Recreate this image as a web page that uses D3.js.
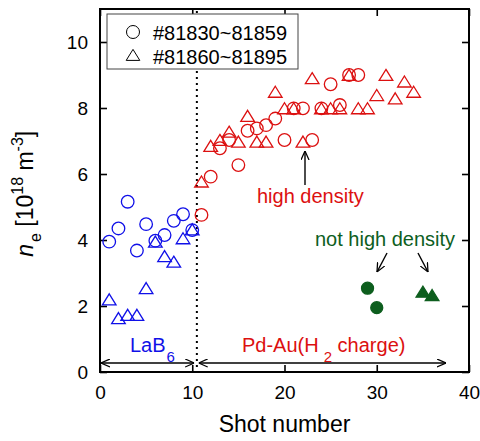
<!DOCTYPE html>
<html>
<head>
<meta charset="utf-8">
<script src="https://cdn.jsdelivr.net/npm/d3@7"></script>
<style>
  body { margin: 0; background: #fff; }
  text { font-family: "Liberation Sans", Arial, sans-serif; }
</style>
</head>
<body>
<svg id="chart" width="480" height="441"></svg>
<script>
// shot numbers and densities (10^18 m^-3)
const lab6Shots = [1, 2, 3, 4, 5, 6, 7, 8, 9, 10];
const lab6Circle = [3.95, 4.35, 5.16, 3.68, 4.48, 3.98, 4.15, 4.58, 4.78, 4.30];
const lab6Triangle = [2.20, 1.63, 1.73, 1.73, 2.54, 3.95, 3.51, 3.34, 4.05, 4.32];

const pdCircleShots = [11, 12, 13, 14, 15, 16, 17, 18, 19, 20, 21, 22, 23, 24, 25, 26, 27, 28];
const pdCircle = [4.76, 5.92, 6.78, 7.03, 6.27, 7.31, 7.38, 7.48, 7.68, 7.03, 7.99, 7.99, 7.03, 7.99, 8.72, 8.09, 9.00, 9.00];
const pdTriangleShots = [11, 12, 13, 14, 15, 16, 17, 18, 19, 20, 21, 22, 23, 24, 25, 26, 27, 28, 29, 30, 31, 32, 33, 34];
const pdTriangle = [5.77, 6.85, 7.03, 7.28, 6.98, 7.76, 6.98, 6.98, 8.49, 7.99, 7.99, 6.98, 8.90, 7.99, 7.99, 7.99, 9.00, 7.99, 7.99, 8.39, 9.00, 8.29, 8.80, 8.49];

const lowCircleShots = [29, 30];
const lowCircle = [2.54, 1.95];
const lowTriangleShots = [35, 36];
const lowTriangle = [2.43, 2.33];

const xTicks = [0, 10, 20, 30, 40];
const yTicks = [0, 2, 4, 6, 8, 10];
const legendLabels = ["#81830~81859", "#81860~81895"];

const BLUE = "#1010e8", RED = "#dc1010", GREEN = "#0d5e1e";

let svg = d3.select("#chart");
let W = 480, H = 441;
let m = {left: 100, right: 11, top: 9, bottom: 69};

let x = d3.scaleLinear().domain([0, 40]).range([m.left, W - m.right]);
let y = d3.scaleLinear().domain([0, 11]).range([H - m.bottom, m.top]);

let zip = (xs, ys) => xs.map((v, i) => [v, ys[i]]);
let triPath = "M0,-5.6L6.8,5.4L-6.8,5.4Z";

// arrow heads
let defs = svg.append("defs");
defs.append("marker").attr("id", "arr")
    .attr("viewBox", "0 -5 10 10").attr("refX", 10).attr("refY", 0)
    .attr("markerWidth", 9).attr("markerHeight", 9).attr("markerUnits", "userSpaceOnUse")
    .attr("orient", "auto-start-reverse")
    .append("path").attr("d", "M0,-4.5L10,0L0,4.5").attr("fill", "none")
    .attr("stroke", "#000").attr("stroke-width", 1.4);

// axes (ticks inward on all four sides)
let frame = svg.append("g");
frame.append("g").attr("transform", `translate(0,${y(0)})`)
    .call(d3.axisBottom(x).tickValues(xTicks).tickSizeInner(-7).tickSizeOuter(0).tickPadding(14));
frame.append("g").attr("transform", `translate(0,${y(11)})`)
    .call(d3.axisTop(x).tickValues(xTicks).tickSizeInner(-7).tickSizeOuter(0).tickFormat(""));
frame.append("g").attr("transform", `translate(${x(0)},0)`)
    .call(d3.axisLeft(y).tickValues(yTicks).tickSizeInner(-7).tickSizeOuter(0).tickPadding(12));
frame.append("g").attr("transform", `translate(${x(40)},0)`)
    .call(d3.axisRight(y).tickValues(yTicks).tickSizeInner(-7).tickSizeOuter(0).tickFormat(""));
frame.selectAll(".domain").remove();
frame.selectAll(".tick line").attr("stroke", "#000").attr("stroke-width", 1.6);
frame.selectAll(".tick text").attr("font-size", 19).attr("fill", "#000")
    .attr("font-family", "'Liberation Sans', Arial, sans-serif");
frame.append("rect")
    .attr("x", x(0)).attr("y", y(11))
    .attr("width", x(40) - x(0)).attr("height", y(0) - y(11))
    .attr("fill", "none").attr("stroke", "#000").attr("stroke-width", 2);

// divider between LaB6 and Pd-Au
svg.append("line")
    .attr("x1", x(10.5)).attr("x2", x(10.5)).attr("y1", y(11) + 2).attr("y2", y(0))
    .attr("stroke", "#000").attr("stroke-width", 2).attr("stroke-dasharray", "2,4");

// markers
let pts = svg.append("g");
function circles(data, color, filled, r) {
    pts.selectAll(null).data(data).enter().append("circle")
        .attr("cx", d => x(d[0])).attr("cy", d => y(d[1])).attr("r", r)
        .attr("fill", filled ? color : "none").attr("stroke", color).attr("stroke-width", 1.3);
}
function triangles(data, color, filled) {
    pts.selectAll(null).data(data).enter().append("path")
        .attr("d", triPath)
        .attr("transform", d => `translate(${x(d[0])},${y(d[1])})`)
        .attr("fill", filled ? color : "none").attr("stroke", color).attr("stroke-width", 1.3)
        .attr("stroke-linejoin", "miter");
}
circles(zip(lab6Shots, lab6Circle), BLUE, false, 6.3);
triangles(zip(lab6Shots, lab6Triangle), BLUE, false);
circles(zip(pdCircleShots, pdCircle), RED, false, 6.3);
triangles(zip(pdTriangleShots, pdTriangle), RED, false);
circles(zip(lowCircleShots, lowCircle), GREEN, true, 6);
triangles(zip(lowTriangleShots, lowTriangle), GREEN, true);

// legend
let lg = svg.append("g");
lg.append("rect").attr("x", 107).attr("y", 14).attr("width", 191).attr("height", 55)
    .attr("fill", "#fff").attr("stroke", "#444").attr("stroke-width", 1);
lg.append("circle").attr("cx", 133).attr("cy", 32).attr("r", 6.5)
    .attr("fill", "none").attr("stroke", "#000").attr("stroke-width", 1);
lg.append("path").attr("d", triPath).attr("transform", "translate(133,55)")
    .attr("fill", "none").attr("stroke", "#000").attr("stroke-width", 1);
lg.selectAll(null).data(legendLabels).enter().append("text")
    .attr("x", 153).attr("y", (d, i) => 40 + i * 24)
    .attr("font-size", 20).attr("fill", "#000").text(d => d);

// annotations
let ann = svg.append("g");
ann.append("text").attr("x", 257).attr("y", 203).attr("font-size", 20).attr("fill", RED).text("high density");
ann.append("line").attr("x1", 305).attr("y1", 185).attr("x2", 305).attr("y2", 151)
    .attr("stroke", "#000").attr("stroke-width", 1.4).attr("marker-end", "url(#arr)");

ann.append("text").attr("x", 315).attr("y", 246).attr("font-size", 20).attr("fill", GREEN).text("not high density");
ann.append("line").attr("x1", 387).attr("y1", 253).attr("x2", 377).attr("y2", 272)
    .attr("stroke", "#000").attr("stroke-width", 1.4).attr("marker-end", "url(#arr)");
ann.append("line").attr("x1", 418).attr("y1", 253).attr("x2", 428).attr("y2", 272)
    .attr("stroke", "#000").attr("stroke-width", 1.4).attr("marker-end", "url(#arr)");

// bottom ranges
ann.append("line").attr("x1", x(0) + 1).attr("x2", x(10.2)).attr("y1", 363).attr("y2", 363)
    .attr("stroke", "#000").attr("stroke-width", 1.4)
    .attr("marker-start", "url(#arr)").attr("marker-end", "url(#arr)");
ann.append("line").attr("x1", x(10.7)).attr("x2", x(37.5)).attr("y1", 363).attr("y2", 363)
    .attr("stroke", "#000").attr("stroke-width", 1.4)
    .attr("marker-start", "url(#arr)").attr("marker-end", "url(#arr)");

let lab = ann.append("text").attr("x", 130).attr("y", 352).attr("font-size", 20).attr("fill", BLUE);
lab.append("tspan").text("LaB");
lab.append("tspan").attr("dx", 1).attr("dy", 10).attr("font-size", 15).text("6");

let pd = ann.append("text").attr("x", 242).attr("y", 352).attr("font-size", 20).attr("fill", RED);
pd.append("tspan").text("Pd-Au(H");
pd.append("tspan").attr("dx", 5).attr("dy", 10).attr("font-size", 15).text("2");
pd.append("tspan").attr("dy", -10).text(" charge)");

// axis titles
svg.append("text").attr("x", (x(0) + x(40)) / 2).attr("y", 432)
    .attr("text-anchor", "middle").attr("font-size", 23).attr("fill", "#000").text("Shot number");

let yl = svg.append("text").attr("transform", `translate(33,${y(5.4)}) rotate(-90)`)
    .attr("text-anchor", "middle").attr("font-size", 23).attr("fill", "#000");
yl.append("tspan").attr("font-style", "italic").text("n");
yl.append("tspan").attr("dx", 2).attr("dy", 8).attr("font-size", 16).text("e");
yl.append("tspan").attr("dy", -8).text(" [10");
yl.append("tspan").attr("dy", -10).attr("font-size", 16).text("18");
yl.append("tspan").attr("dy", 10).text(" m");
yl.append("tspan").attr("dy", -10).attr("font-size", 16).text("-3");
yl.append("tspan").attr("dy", 10).text("]");
</script>
</body>
</html>
